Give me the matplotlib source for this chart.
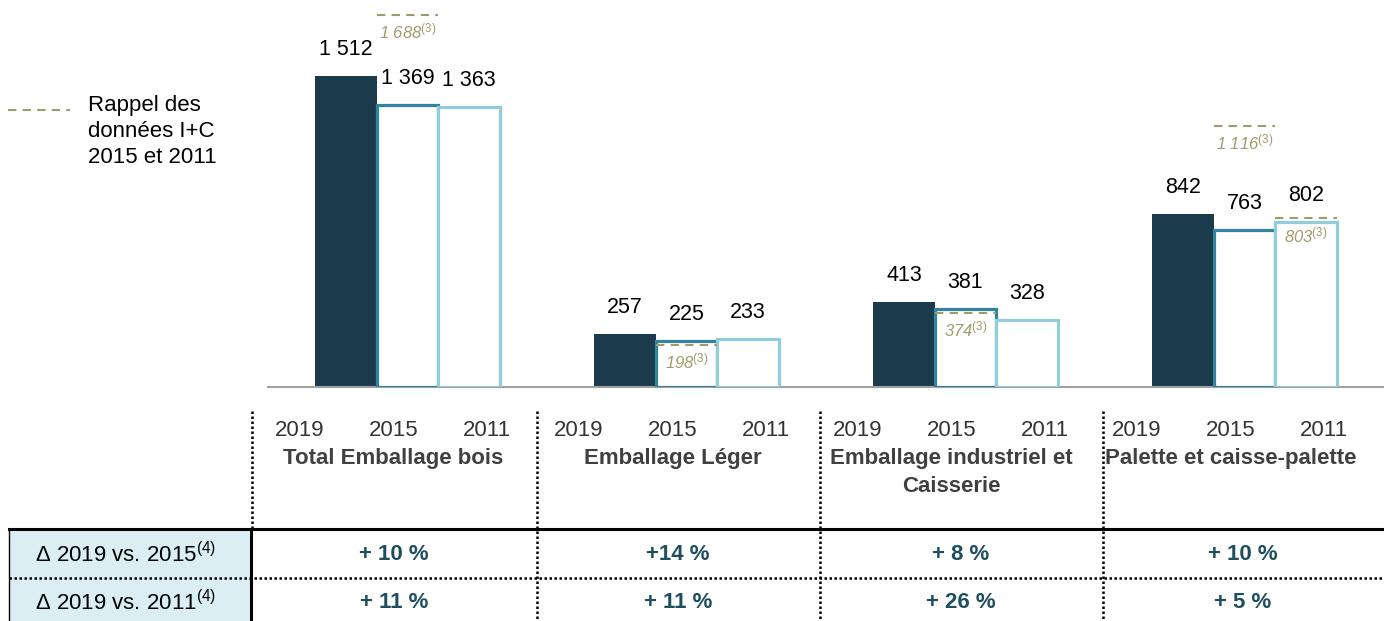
import numpy as np
import matplotlib
matplotlib.use("Agg")
import matplotlib.pyplot as plt
from matplotlib.lines import Line2D
from matplotlib.patches import Rectangle

plt.rcParams['font.family'] = ['Liberation Sans', 'DejaVu Sans']
plt.rcParams['mathtext.fontset'] = 'custom'
plt.rcParams['mathtext.rm'] = 'Liberation Sans'
plt.rcParams['mathtext.it'] = 'Liberation Sans:italic'
plt.rcParams['mathtext.bf'] = 'Liberation Sans:bold'

# données
categories = ["Total Emballage bois", "Emballage Léger",
              "Emballage industriel et\nCaisserie", "Palette et caisse-palette"]
years = ["2019", "2015", "2011"]
v2019 = [1512, 257, 413, 842]
v2015 = [1369, 225, 381, 763]
v2011 = [1363, 233, 328, 802]

# rappel I+C (groupe, barre, valeur, hauteur dessinée dans l'original)
ic_group = [0, 1, 2, 3, 3]
ic_bar = [1, 1, 1, 1, 2]
ic_value = ["1 688", "198", "374", "1 116", "803"]
ic_level = [1808, 204, 360, 1269, 820]

delta_2015 = ["+ 10 %", "+14 %", "+ 8 %", "+ 10 %"]
delta_2011 = ["+ 11 %", "+ 11 %", "+ 26 %", "+ 5 %"]
row_labels = [r"Δ 2019 vs. 2015$^{\mathrm{(4)}}$", r"Δ 2019 vs. 2011$^{\mathrm{(4)}}$"]

c2019 = '#1B3A4B'
c2015 = '#31849B'
c2011 = '#92CDDC'
cic = '#A09B6A'
cval = '#1F4E5F'

W, H = 1384, 621
fig = plt.figure(figsize=(W / 100, H / 100), dpi=100)


def fx(px):
    return px / W


def fy(py):
    return 1 - py / H


ax = fig.add_axes([fx(268), fy(387), fx(1384) - fx(268), fy(0) - fy(387)])
x = np.arange(len(categories))
w = 0.22
ax.bar(x - w, v2019, w, color=c2019, zorder=2)
ax.bar(x, v2015, w, facecolor='white', edgecolor=c2015, linewidth=2.3, zorder=3)
ax.bar(x + w, v2011, w, facecolor='white', edgecolor=c2011, linewidth=2.3, zorder=3)
ax.set_xlim(-0.5, 3.5)
ax.set_ylim(0, 1881)
for s in ['top', 'right', 'left']:
    ax.spines[s].set_visible(False)
ax.spines['bottom'].set_color('#A0A0A0')
ax.spines['bottom'].set_linewidth(1.5)
ax.set_xticks([])
ax.set_yticks([])

for vals, off in [(v2019, -w), (v2015, 0), (v2011, w)]:
    for i, v in enumerate(vals):
        txt = f"{v:,}".replace(",", " ")
        ax.annotate(txt, (x[i] + off, v), xytext=(0, 19), textcoords='offset points',
                    ha='center', va='center', fontsize=15.5, color='black', zorder=5)

for g, b, val, lev in zip(ic_group, ic_bar, ic_value, ic_level):
    xc = x[g] + (b - 1) * w
    ax.hlines(lev, xc - w / 2, xc + w / 2, colors=cic, linestyles=(0, (4, 3)),
              linewidth=1.5, zorder=4)
    ax.annotate(val + r"$^{\mathit{(3)}}$", (xc, lev), xytext=(0, -12),
                textcoords='offset points', ha='center', va='center',
                fontsize=12, style='italic', color=cic, zorder=5)

# années et catégories
for i in range(len(categories)):
    for j, yr in enumerate(years):
        ax.text(x[i] - 0.05 + (j - 1) * 0.336, -210, yr, ha='center', va='center',
                fontsize=16, color='#333333', clip_on=False)
    ax.text(x[i] - 0.05, -298, categories[i], ha='center', va='top',
            fontsize=16, fontweight='bold', color='#404040', clip_on=False,
            linespacing=1.4)

# légende
fig.add_artist(Line2D([fx(8), fx(70)], [fy(110), fy(110)], color=cic,
                      linestyle=(0, (4, 3)), linewidth=1.5))
fig.text(fx(88), fy(95), "Rappel des\ndonnées I+C\n2015 et 2011", ha='left', va='top',
         fontsize=16, color='black', linespacing=1.3)

# tableau
fig.add_artist(Rectangle((fx(9), fy(621)), fx(251) - fx(9), fy(529) - fy(621),
                         facecolor='#DAEEF3', edgecolor='none', transform=fig.transFigure))
fig.add_artist(Line2D([fx(9), fx(1384)], [fy(529), fy(529)], color='black', linewidth=2.2))
fig.add_artist(Line2D([fx(9), fx(9)], [fy(529), fy(621)], color='black', linewidth=1))
fig.add_artist(Line2D([fx(251), fx(251)], [fy(529), fy(621)], color='black', linewidth=2.2))
fig.add_artist(Line2D([fx(9), fx(1384)], [fy(578), fy(578)], color='black',
                      linestyle=(0, (1, 1)), linewidth=1.8))
fig.add_artist(Line2D([fx(252), fx(252)], [fy(411), fy(528)], color='black',
                      linestyle=(0, (1, 1)), linewidth=1.8))
for sx in [537, 820, 1103]:
    fig.add_artist(Line2D([fx(sx), fx(sx)], [fy(411), fy(621)], color='black',
                          linestyle=(0, (1, 1)), linewidth=1.8))

fig.text(fx(126), fy(555), row_labels[0], ha='center', va='center', fontsize=16, color='black')
fig.text(fx(126), fy(603), row_labels[1], ha='center', va='center', fontsize=16, color='black')
col_centers = [394, 678, 961, 1243]
for cxp, d1, d2 in zip(col_centers, delta_2015, delta_2011):
    fig.text(fx(cxp), fy(555), d1, ha='center', va='center', fontsize=16,
             fontweight='bold', color=cval)
    fig.text(fx(cxp), fy(603), d2, ha='center', va='center', fontsize=16,
             fontweight='bold', color=cval)

fig.savefig("out.png", dpi=100)
